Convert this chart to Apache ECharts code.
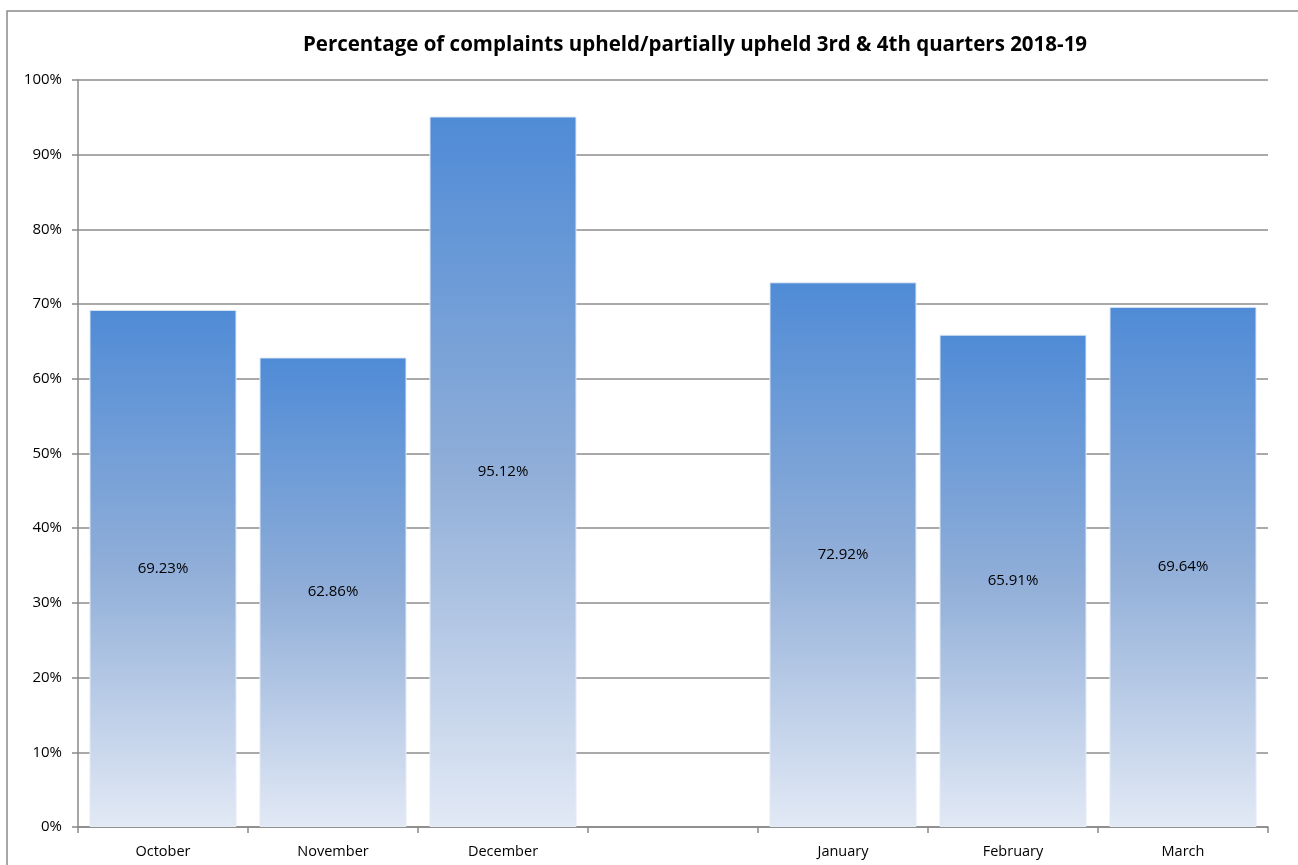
<!DOCTYPE html>
<html><head><meta charset="utf-8">
<script src="https://cdn.jsdelivr.net/npm/echarts@6/dist/echarts.min.js"></script>
<style>html,body{margin:0;padding:0;background:#fff}#c{width:1298px;height:865px}</style>
</head><body><div id="c"></div>
<script>
const categories = ['October','November','December','','January','February','March'];
const values = [69.23, 62.86, 95.12, null, 72.92, 65.91, 69.64];
const titleText = 'Percentage of complaints upheld/partially upheld 3rd & 4th quarters 2018-19';

const chart = echarts.init(document.getElementById('c'));
chart.setOption({
  animation: false,
  backgroundColor: '#fff',
  title: {
    text: titleText, left: 690, top: 30, textAlign: 'center',
    textStyle: {fontFamily: 'Open Sans', fontWeight: 'bold', fontSize: 20.5, color: '#000'}
  },
  graphic: [{
    type: 'rect', shape: {x: 7, y: 11, width: 1320, height: 900},
    style: {fill: 'none', stroke: '#8a8a8a', lineWidth: 1.5}, silent: true
  }],
  grid: {left: 78, right: 30, top: 80, bottom: 38},
  xAxis: {
    type: 'category', data: categories,
    axisLine: {lineStyle: {color: '#888', width: 1.5}},
    axisTick: {show: true, length: 6, lineStyle: {color: '#888', width: 1.5}},
    axisLabel: {color: '#000', fontSize: 14.5, fontFamily: 'Open Sans', margin: 17}
  },
  yAxis: {
    type: 'value', min: 0, max: 100, interval: 10,
    axisLine: {show: true, lineStyle: {color: '#888', width: 1.5}},
    axisTick: {show: true, length: 6, lineStyle: {color: '#888', width: 1.5}},
    splitLine: {lineStyle: {color: '#8c8c8c', width: 1.5}},
    axisLabel: {color: '#000', fontSize: 15, fontFamily: 'Open Sans', margin: 16, formatter: '{value}%'}
  },
  series: [{
    type: 'bar', data: values, barCategoryGap: '13.5%',
    itemStyle: {
      color: new echarts.graphic.LinearGradient(0, 0, 0, 1, [
        {offset: 0, color: '#4f8bd6'},
        {offset: 0.5, color: '#90aed8'},
        {offset: 1, color: '#e2e9f5'}
      ]),
      borderColor: '#e4ecf7', borderWidth: 1
    },
    label: {
      show: true, position: 'inside', color: '#000', fontSize: 15, fontFamily: 'Open Sans',
      formatter: p => p.value.toFixed(2) + '%'
    }
  }]
});
</script></body></html>
